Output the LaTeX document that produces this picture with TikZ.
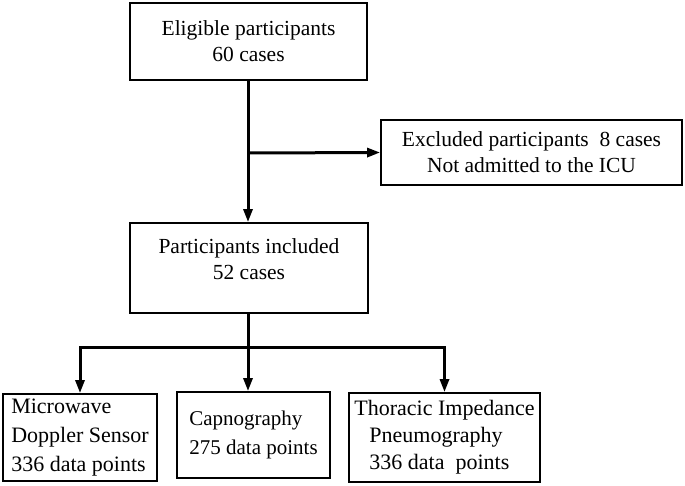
\documentclass[tikz,border=0pt]{standalone}
\usepackage{fontspec}
\setmainfont{Liberation Serif}
\usetikzlibrary{arrows.meta}

\tikzset{
  box/.style={draw, line width=1.8pt, inner sep=0pt, font=\fontsize{21.5}{26}\selectfont},
  link/.style={line width=3pt},
  arrow/.style={line width=3pt, -{Triangle[length=13pt,width=9pt]}}
}

\begin{document}
\begin{tikzpicture}[x=1pt, y=-1pt]
    \useasboundingbox (0,0) rectangle (685,485);

    % Boxes
    \node[box, minimum width=237pt, minimum height=77pt, align=center] (eligible) at (248.5,41.5) {Eligible participants\\60 cases};
    \node[box, minimum width=301pt, minimum height=65pt, align=center] (excluded) at (531.5,152.5) {Excluded participants\ \ 8 cases\\Not admitted to the ICU};
    \node[box, minimum width=238pt, minimum height=90pt, align=center, text depth=17pt] (included) at (249,268) {Participants included\\52 cases};

    \node[box, minimum width=154pt, minimum height=87pt, align=left, font=\fontsize{22}{29}\selectfont] (doppler) at (80,437.5) {Microwave\\Doppler Sensor\\336 data points};
    \node[box, minimum width=153pt, minimum height=86pt, align=left, font=\fontsize{21}{29}\selectfont] (capno) at (253.5,435) {Capnography\\275 data points};
    \node[box, minimum width=191pt, minimum height=89pt, align=left, font=\fontsize{22}{27}\selectfont] (thoracic) at (444.5,437.5) {Thoracic Impedance\\\hspace{15pt}Pneumography\\\hspace{15pt}336 data\ \ points};

    % Connectors
    \coordinate (branch) at (248,153);
    \coordinate (split) at (248,347);
    \draw[arrow] (eligible.south -| branch) -- (included.north -| branch);
    \draw[arrow] (branch) -- (excluded.west);
    \draw[link] (included.south -| split) -- (split);
    \draw[arrow] (split) -| (doppler.north);
    \draw[arrow] (split) -| (thoracic.north);
    \draw[arrow] (split) -- (split |- capno.north);
\end{tikzpicture}
\end{document}
